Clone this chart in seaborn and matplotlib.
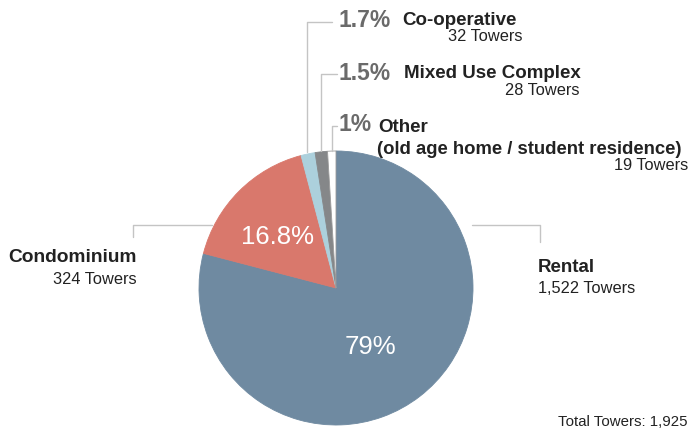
import matplotlib
matplotlib.use("Agg")
import matplotlib.pyplot as plt
import seaborn as sns

categories = ["Rental", "Condominium", "Co-operative", "Mixed Use Complex", "Other"]
towers = [1522, 324, 32, 28, 19]
pct_labels = ["79%", "16.8%", "1.7%", "1.5%", "1%"]
total_label = "Total Towers: 1,925"
colors = ["#6f8aa1", "#d9786c", "#acd0dc", "#858789", "#ffffff"]

sns.set_theme(style="white")
plt.rcParams['font.family'] = ['Liberation Sans', 'DejaVu Sans']

W, H = 690, 431
fig = plt.figure(figsize=(W / 100, H / 100), dpi=100)
ax = fig.add_axes([0, 0, 1, 1])

def Y(y):
    return H - y

cx, cy, r = 336, 289, 137
wedges, _ = ax.pie(towers, colors=colors, startangle=90, counterclock=False,
                   center=(cx, Y(cy)), radius=r,
                   wedgeprops=dict(linewidth=0.6, edgecolor="#9a9a9a"))
for w, c in zip(wedges, colors):
    if c != "#ffffff":
        w.set_edgecolor(c)

ax.set_xlim(0, W)
ax.set_ylim(0, H)
ax.set_aspect('equal')
ax.axis('off')

lc = "#c4c4c4"
# leader lines
ax.plot([133, 133, 212], [Y(238), Y(226), Y(226)], color=lc, lw=1)
ax.plot([472, 540, 540], [Y(226), Y(226), Y(243)], color=lc, lw=1)
ax.plot([307, 307, 332], [Y(153), Y(23), Y(23)], color=lc, lw=1)
ax.plot([321, 321, 337], [Y(152), Y(75), Y(75)], color=lc, lw=1)
ax.plot([332, 332, 337], [Y(152), Y(127), Y(127)], color=lc, lw=1)

dark = "#222222"
pcol = "#6a6a6a"
LBL = 13.5
TW = 11.8
PC = 16.5

# Condominium
ax.text(137, Y(262), categories[1], ha='right', va='baseline', fontsize=13.8, fontweight='bold', color=dark)
ax.text(137, Y(284), f"{towers[1]} Towers", ha='right', va='baseline', fontsize=TW, color=dark)
# Rental
ax.text(538, Y(272), categories[0], ha='left', va='baseline', fontsize=LBL, fontweight='bold', color=dark)
ax.text(538, Y(293), f"{towers[0]:,} Towers", ha='left', va='baseline', fontsize=TW, color=dark)

# Co-operative
ax.text(339, Y(27), pct_labels[2], ha='left', va='baseline', fontsize=PC, fontweight='bold', color=pcol)
ax.text(402, Y(25), categories[2], ha='left', va='baseline', fontsize=LBL, fontweight='bold', color=dark)
ax.text(523, Y(41), f"{towers[2]} Towers", ha='right', va='baseline', fontsize=TW, color=dark)
# Mixed use
ax.text(339, Y(80), pct_labels[3], ha='left', va='baseline', fontsize=PC, fontweight='bold', color=pcol)
ax.text(404, Y(78), categories[3], ha='left', va='baseline', fontsize=LBL, fontweight='bold', color=dark)
ax.text(580, Y(95), f"{towers[3]} Towers", ha='right', va='baseline', fontsize=TW, color=dark)
# Other
ax.text(339, Y(131), pct_labels[4], ha='left', va='baseline', fontsize=PC, fontweight='bold', color=pcol)
ax.text(378, Y(132), categories[4], ha='left', va='baseline', fontsize=LBL, fontweight='bold', color=dark)
ax.text(377, Y(154), "(old age home / student residence)", ha='left', va='baseline', fontsize=13.3, fontweight='bold', color=dark)
ax.text(688, Y(170), f"{towers[4]} Towers", ha='right', va='baseline', fontsize=TW, color=dark)

# inner percentages
ax.text(278, Y(237), pct_labels[1], ha='center', va='center', fontsize=18.5, color='white')
ax.text(370, Y(347), pct_labels[0], ha='center', va='center', fontsize=18.5, color='white')

ax.text(688, Y(426), total_label, ha='right', va='baseline', fontsize=10.8, color=dark)

fig.savefig("out.png", dpi=100)
